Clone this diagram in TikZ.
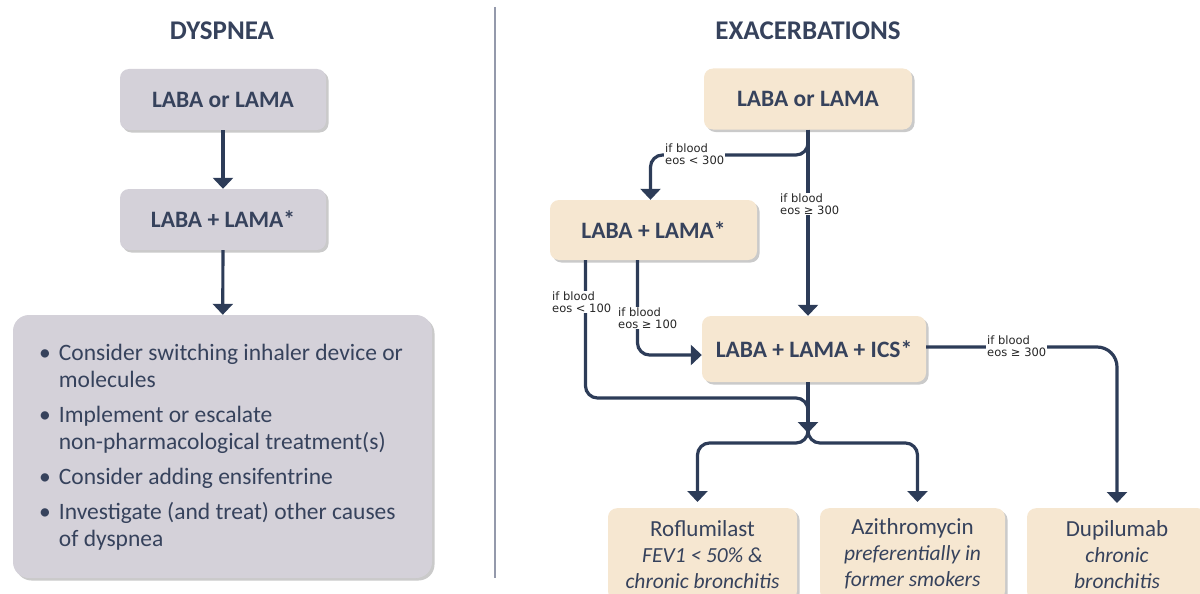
\documentclass[tikz,border=0pt]{standalone}
\usepackage{fontspec}
\setmainfont{Carlito}
\newfontfamily\condfont{DejaVu Sans}
\usetikzlibrary{arrows.meta,shadows,calc}
\definecolor{navy}{HTML}{2D3C58}
\definecolor{ink}{HTML}{36425C}
\definecolor{greyfill}{HTML}{D4D1D9}
\definecolor{beigefill}{HTML}{F6E7D1}
\definecolor{rulegrey}{HTML}{9499AB}

\begin{document}
\begin{tikzpicture}[x=1pt,y=-1pt,
              every node/.style={text=ink},
              box/.style={rounded corners=9pt, minimum width=206pt, minimum height=61pt,
                drop shadow={shadow xshift=2.5pt,shadow yshift=-2.5pt,opacity=0.35,fill=black!60},
                font=\fontsize{23.5}{27}\selectfont\bfseries},
              greybox/.style={box, fill=greyfill},
              beigebox/.style={box, fill=beigefill},
              drugbox/.style={beigebox, font=\fontsize{23}{26}\selectfont, align=center,
                anchor=north, minimum height=92pt},
              title/.style={font=\fontsize{27}{30}\selectfont\bfseries},
              cond/.style={fill=white, align=left, inner sep=1pt, anchor=west, text=black!85,
                font=\condfont\fontsize{11.5}{12}\selectfont},
              flow/.style={draw=navy, line width=3.2pt, rounded corners=12pt},
              arr/.style={flow, -{Triangle[width=20pt,length=11pt]}}
            ]
              \useasboundingbox (0,0) rectangle (1200,594);

              \node[title] (lTitle) at (222,31) {DYSPNEA};
              \node[greybox] (lStart) at (223,99.5) {LABA or LAMA};
              \node[greybox] (lDual) at (223,219.5) {LABA + LAMA*};
              \node[greybox, minimum width=419pt, minimum height=263pt, rounded corners=16pt]
                (lMore) at (222.5,446.5) {};
              \node[anchor=north west, inner sep=0pt, font=\fontsize{23.5}{27}\selectfont]
                (lList) at (39,341) {%
                \begin{tabular}{@{}c@{\hspace{8pt}}l@{}}
                  \textbullet & Consider switching inhaler device or\\
                              & molecules\\[8pt]
                  \textbullet & Implement or escalate\\
                              & non-pharmacological treatment(s)\\[8pt]
                  \textbullet & Consider adding ensifentrine\\[8pt]
                  \textbullet & Investigate (and treat) other causes\\
                              & of dyspnea
                \end{tabular}};

              \draw[arr] (lStart) -- (lDual);
              \draw[arr] (lDual) -- (lMore);

              \draw[rulegrey, line width=1.6pt] (495,7) -- (495,578);

              \node[title] (rTitle) at (808,31) {EXACERBATIONS};
              \node[beigebox, minimum width=208pt] (rStart) at (808,99) {LABA or LAMA};
              \node[beigebox, minimum width=207pt, minimum height=60pt] (rDual) at (653.5,230) {LABA + LAMA*};
              \node[beigebox, minimum width=224pt, minimum height=66pt] (rTriple) at (814,349) {LABA + LAMA + ICS*};
              \node[drugbox, minimum width=189pt] (rRof) at (702.5,508)
                {Roflumilast\\ \fontsize{21.5}{26}\selectfont\itshape FEV1 < 50\% \&\\ \fontsize{21.5}{26}\selectfont\itshape chronic bronchitis};
              \node[drugbox, minimum width=185pt] (rAzi) at (912.5,508)
                {Azithromycin\\ \fontsize{21.5}{26}\selectfont\itshape preferentially in\\ \fontsize{21.5}{26}\selectfont\itshape former smokers};
              \node[drugbox, minimum width=180pt] (rDupi) at (1117,508)
                {Dupilumab\\ \fontsize{21.5}{26}\selectfont\itshape chronic\\ \fontsize{21.5}{26}\selectfont\itshape bronchitis};

              \coordinate (hi) at (808,155);
              \coordinate (low) at (808,398);
              \coordinate (hub) at (808,433);

              \draw[arr] (rStart.south) -- (rStart.south |- rTriple.north);
              \draw[arr] ([yshift=-8pt]rStart.south) -- (hi) -| ([xshift=-3pt]rDual.north);
              \draw[flow] ([xshift=-68pt]rDual.south) |- (low) -- (hub);
              \draw[arr] ([xshift=-16pt]rDual.south) |- ([yshift=-6pt]rTriple.west);
              \draw[arr] (rTriple.south -| hub) -- (hub);
              \draw[arr] ($(hub)+(0,-10)$) |- ($(rRof.north)+(-5,-65)$) -- ($(rRof.north)+(-5,-6)$);
              \draw[arr] ($(hub)+(0,-10)$) |- ($(rAzi.north)+(5,-65)$) -- ($(rAzi.north)+(5,-6)$);
              \draw[arr, rounded corners=20pt] ([yshift=2pt]rTriple.east) -| ($(rDupi.north)+(0,-5)$);

              \node[cond] (c300lo) at (664,154) {if blood\\eos < 300};
              \node[cond] (c300hi) at (779,204) {if blood\\eos ≥ 300};
              \node[cond] (c100lo) at (551,302) {if blood\\eos < 100};
              \node[cond] (c100hi) at (617,318) {if blood\\eos ≥ 100};
              \node[cond] (c300dup) at (986,346) {if blood\\eos ≥ 300};
            \end{tikzpicture}
\end{document}
